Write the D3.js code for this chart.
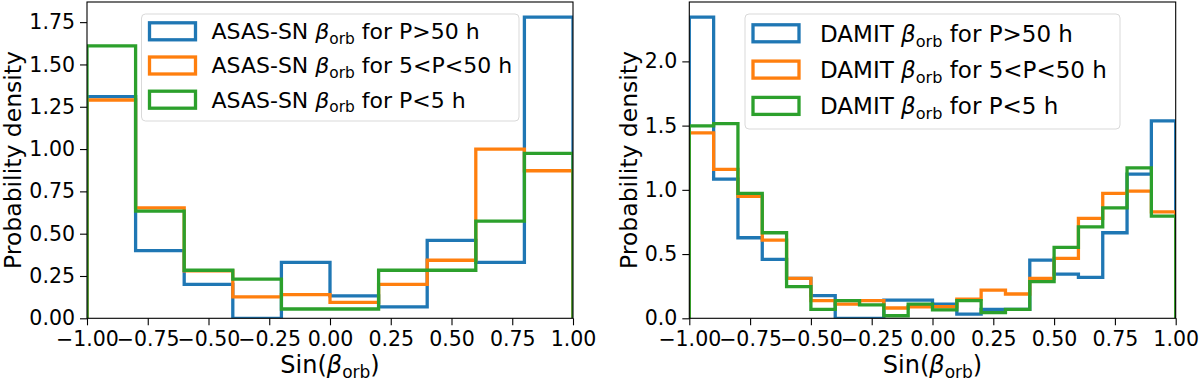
<!DOCTYPE html>
<html>
<head>
<meta charset="utf-8">
<script src="https://cdn.jsdelivr.net/npm/d3@7"></script>
<style>
  body { margin: 0; background: #fff; }
  text { font-family: "DejaVu Sans", sans-serif; fill: #000; }
</style>
</head>
<body>
<script>
// bin edges and densities
var asasEdges = [-1, -0.8, -0.6, -0.4, -0.2, 0, 0.2, 0.4, 0.6, 0.8, 1];
var asasLong  = [1.31, 0.40, 0.20, 0, 0.33, 0.133, 0.067, 0.46, 0.33, 1.78];
var asasMid   = [1.29, 0.653, 0.28, 0.127, 0.14, 0.094, 0.20, 0.343, 1.0, 0.872];
var asasShort = [1.61, 0.633, 0.284, 0.231, 0.055, 0.055, 0.284, 0.284, 0.574, 0.974];

var damitEdges = [-1, -0.9, -0.8, -0.7, -0.6, -0.5, -0.4, -0.3, -0.2, -0.1, 0,
                  0.1, 0.2, 0.3, 0.4, 0.5, 0.6, 0.7, 0.8, 0.9, 1];
var damitLong  = [2.345, 1.083, 0.627, 0.459, 0.311, 0.176, 0, 0, 0.142, 0.142,
                  0.111, 0.033, 0.07, 0.07, 0.453, 0.344, 0.319, 0.666, 1.122, 1.537];
var damitMid   = [1.443, 1.159, 0.95, 0.609, 0.311, 0.137, 0.111, 0.137, 0.08, 0.09,
                  0.09, 0.15, 0.22, 0.189, 0.311, 0.467, 0.778, 0.972, 0.99, 0.829];
var damitShort = [1.498, 1.516, 0.972, 0.666, 0.246, 0.07, 0.137, 0.104, 0.02, 0.111,
                  0.065, 0.137, 0.044, 0.07, 0.285, 0.552, 0.712, 0.86, 1.171, 0.796];

var xTicks = [-1, -0.75, -0.5, -0.25, 0, 0.25, 0.5, 0.75, 1];
var asasYTicks = [0, 0.25, 0.5, 0.75, 1, 1.25, 1.5, 1.75];
var damitYTicks = [0, 0.5, 1, 1.5, 2];

var seriesLabels = ["for P>50 h", "for 5<P<50 h", "for P<5 h"];
var colors = ["#1f77b4", "#ff7f0e", "#2ca02c"];

var W = 1200, H = 382;
var svg = d3.select("body").append("svg")
  .attr("width", W).attr("height", H);

var fmtMinus = function(f) {
  return function(d) { return f(d).replace("-", "\u2212"); };
};

function panel(opt) {
  var x = d3.scaleLinear().domain([-1, 1]).range([opt.left, opt.right]);
  var ymax = d3.max(opt.series, function(s) { return d3.max(s); }) * 1.05;
  var y = d3.scaleLinear().domain([0, ymax]).range([318.3, 2]);

  var g = svg.append("g");

  g.append("clipPath").attr("id", opt.id)
    .append("rect")
    .attr("x", opt.left).attr("y", 2)
    .attr("width", opt.right - opt.left).attr("height", 316.3);

  // step outline of every histogram
  var line = d3.line().x(function(d) { return x(d[0]); }).y(function(d) { return y(d[1]); });
  opt.series.forEach(function(vals, i) {
    var pts = [[opt.edges[0], 0]];
    vals.forEach(function(v, k) {
      pts.push([opt.edges[k], v]);
      pts.push([opt.edges[k + 1], v]);
    });
    pts.push([opt.edges[opt.edges.length - 1], 0]);
    g.append("path")
      .attr("clip-path", "url(#" + opt.id + ")")
      .attr("d", line(pts))
      .attr("fill", "none")
      .attr("stroke", colors[i])
      .attr("stroke-width", 3.3)
      .attr("stroke-linejoin", "miter");
  });

  // axes
  var xAxis = d3.axisBottom(x).tickValues(xTicks)
    .tickFormat(fmtMinus(d3.format(".2f")))
    .tickSize(7).tickPadding(6);
  var yAxis = d3.axisLeft(y).tickValues(opt.yTicks)
    .tickFormat(d3.format(opt.yFmt))
    .tickSize(7).tickPadding(5);

  var gx = g.append("g").attr("transform", "translate(0,318.3)").call(xAxis);
  var gy = g.append("g").attr("transform", "translate(" + opt.left + ",0)").call(yAxis);
  [gx, gy].forEach(function(a) {
    a.select(".domain").remove();
    a.selectAll("line").attr("stroke", "#000").attr("stroke-width", 1.1);
    a.selectAll("text").style("font-size", "20.5px").attr("fill", "#000");
  });

  g.append("rect")
    .attr("x", opt.left).attr("y", 2)
    .attr("width", opt.right - opt.left).attr("height", 316.3)
    .attr("fill", "none").attr("stroke", "#000").attr("stroke-width", 1.1);

  // axis labels
  var xl = g.append("text")
    .attr("x", (opt.left + opt.right) / 2).attr("y", 373)
    .attr("text-anchor", "middle").style("font-size", "24px");
  xl.append("tspan").text("Sin(");
  xl.append("tspan").style("font-style", "italic").text("\u03b2");
  xl.append("tspan").attr("dy", 5).style("font-size", "17px").text("orb");
  xl.append("tspan").attr("dy", -5).text(")");

  g.append("text")
    .attr("transform", "translate(" + opt.ylabX + ",160) rotate(-90)")
    .attr("text-anchor", "middle").style("font-size", "23.5px")
    .text("Probability density");

  // legend
  var L = opt.legend;
  g.append("rect")
    .attr("x", L.x).attr("y", L.y).attr("width", L.w).attr("height", L.h)
    .attr("rx", 4).attr("fill", "#fff").attr("fill-opacity", 0.8)
    .attr("stroke", "#d9d9d9").attr("stroke-width", 1);
  seriesLabels.forEach(function(lab, i) {
    var cy = L.row0 + i * L.gap;
    g.append("rect")
      .attr("x", L.x + 8).attr("y", cy - 8.5)
      .attr("width", 46).attr("height", 17)
      .attr("fill", "none").attr("stroke", colors[i]).attr("stroke-width", 3.3);
    var t = g.append("text")
      .attr("x", L.tx).attr("y", cy + L.fs * 0.36)
      .style("font-size", L.fs + "px");
    t.append("tspan").text(opt.name + " ");
    t.append("tspan").style("font-style", "italic").text("\u03b2");
    t.append("tspan").attr("dy", L.fs * 0.22).style("font-size", (L.fs * 0.7) + "px").text("orb");
    t.append("tspan").attr("dy", -L.fs * 0.22).text(" " + lab);
  });
}

panel({
  id: "clipA", name: "ASAS-SN", left: 87, right: 573,
  edges: asasEdges, series: [asasLong, asasMid, asasShort],
  yTicks: asasYTicks, yFmt: ".2f", ylabX: 21,
  legend: { x: 141.5, y: 14, w: 377.5, h: 107, row0: 31.3, gap: 34.2, tx: 211.5, fs: 22 }
});

panel({
  id: "clipB", name: "DAMIT", left: 689.3, right: 1175.7,
  edges: damitEdges, series: [damitLong, damitMid, damitShort],
  yTicks: damitYTicks, yFmt: ".1f", ylabX: 637,
  legend: { x: 745, y: 14, w: 375, h: 115, row0: 33.3, gap: 36.3, tx: 820, fs: 23 }
});
</script>
</body>
</html>
